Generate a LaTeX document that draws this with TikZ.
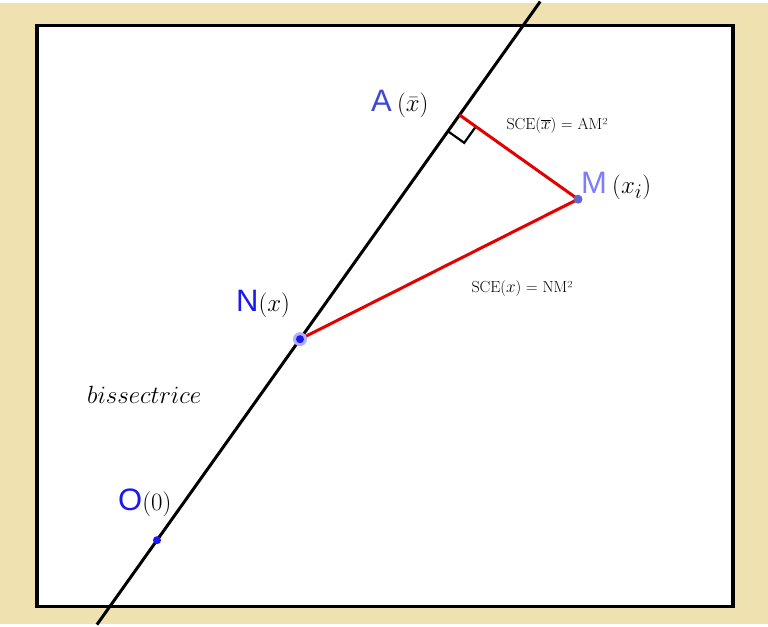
\documentclass[tikz,border=0pt]{standalone}
\usepackage{fontspec}
\newfontfamily\labfont{Liberation Sans}
\usetikzlibrary{calc}
\definecolor{paper}{HTML}{F0E2B0}
\definecolor{ptblue}{HTML}{1A1AF0}
\definecolor{ablue}{HTML}{4048CC}
\definecolor{mblue}{HTML}{7C7CFF}
\begin{document}
\begin{tikzpicture}[x=1pt,y=-1pt]
\tikzstyle{pt} = [circle, fill=ptblue, inner sep=0pt, minimum size=8pt]
\tikzstyle{seg} = [red!90!black, line width=3pt]
\tikzstyle{lab} = [font=\fontsize{31}{34}\selectfont, inner sep=1pt]
\tikzstyle{sce} = [font=\fontsize{16}{18}\selectfont]
\fill[paper] (0,0) rectangle (768,621);
\draw[line width=3.2pt, fill=white] (37,22) rectangle (733,603);
\coordinate (O) at (157,537);
\coordinate (N) at (300,336);
\coordinate (M) at (578,196);
\coordinate (A) at ($(O)!(M)!(N)$);
\draw[line width=3pt] ($(O)!-0.42!(N)$) -- ($(O)!2.68!(N)$);
% right angle mark
\draw[line width=2.2pt] ($(A)!20pt!(O)$) -- ($(A)!20pt!(O)!20pt!90:(O)$) -- ($(A)!20pt!(M)$);
\draw[seg] (A) -- (M) -- (N);
\node[pt] (Odot) at (O) {};
\fill[mblue!60] (N) circle (7pt);
\node[pt] (Ndot) at (N) {};
\node[pt, fill=mblue!80!black, minimum size=9pt] (Mdot) at (M) {};
\node[lab, anchor=south west] (Alab) at (370,116) {\color{ablue}\labfont A\,\color{black}$(\bar{x})$};
\node[lab, anchor=south west] (Mlab) at (580,198) {\color{mblue}\labfont M\,\color{black}$(x_i)$};
\node[lab, anchor=south west] (Nlab) at (235,316) {\color{ptblue}\labfont N\color{black}$(x)$};
\node[lab, anchor=south west] (Olab) at (117,515) {\color{ptblue}\labfont O\color{black}$(0)$};
\node[lab, anchor=west] (bis) at (86,392) {$bissectrice$};
\node[sce, anchor=west] (sceA) at (503,122) {SCE($\overline{x}$) = AM²};
\node[sce, anchor=west] (sceN) at (468,285) {SCE($x$) = NM²};
\end{tikzpicture}
\end{document}
